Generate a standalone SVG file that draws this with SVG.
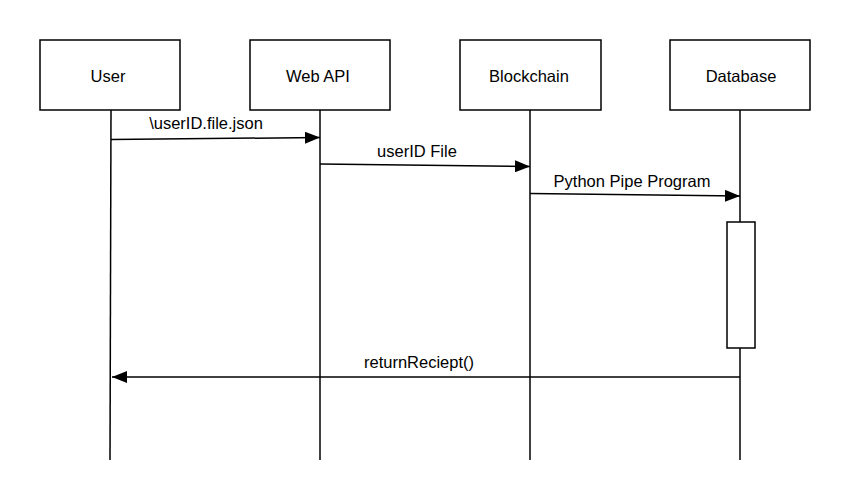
<svg xmlns="http://www.w3.org/2000/svg" width="857" height="498" viewBox="0 0 857 498">
<style>
.box{fill:#fff;stroke:#000;stroke-width:1.5}
.life{stroke:#000;stroke-width:1.5;fill:none}
.msg{stroke:#000;stroke-width:1.5;fill:none}
text{font-family:"Liberation Sans",Arial,Helvetica,sans-serif;font-size:16.5px;fill:#000;text-anchor:middle}
</style>
<defs>
<marker id="arr" markerWidth="16" markerHeight="12" refX="15" refY="6" orient="auto" markerUnits="userSpaceOnUse">
<path d="M0,0 L15,6 L0,12 Z" fill="#000"/>
</marker>
</defs>
<rect width="857" height="498" fill="#fff"/>
<g id="lifelines">
<line class="life" x1="111" y1="110" x2="110" y2="460"/>
<line class="life" x1="320" y1="110" x2="320" y2="460"/>
<line class="life" x1="530" y1="110" x2="530" y2="460"/>
<line class="life" x1="740" y1="110" x2="740" y2="460"/>
</g>
<g id="user"><rect class="box" x="40" y="40" width="140" height="70"/><text x="108" y="82">User</text></g>
<g id="webapi"><rect class="box" x="250" y="40" width="140" height="70"/><text x="318" y="82">Web API</text></g>
<g id="blockchain"><rect class="box" x="460" y="40" width="141" height="70"/><text x="529" y="82">Blockchain</text></g>
<g id="database"><rect class="box" x="670" y="40" width="140" height="70"/><text x="741" y="82">Database</text></g>
<g id="activation"><rect class="box" x="727" y="222" width="28" height="126"/></g>
<g id="connectors">
<line class="msg" x1="111" y1="139.5" x2="320" y2="137.5" marker-end="url(#arr)"/>
<text x="206" y="129">\userID.file.json</text>
<line class="msg" x1="320" y1="164" x2="530" y2="166.5" marker-end="url(#arr)"/>
<text x="417" y="157">userID File</text>
<line class="msg" x1="530" y1="193.5" x2="740" y2="196" marker-end="url(#arr)"/>
<text x="632" y="187">Python Pipe Program</text>
<line class="msg" x1="740" y1="377" x2="112" y2="377" marker-end="url(#arr)"/>
<text x="419" y="368">returnReciept()</text>
</g>
</svg>
